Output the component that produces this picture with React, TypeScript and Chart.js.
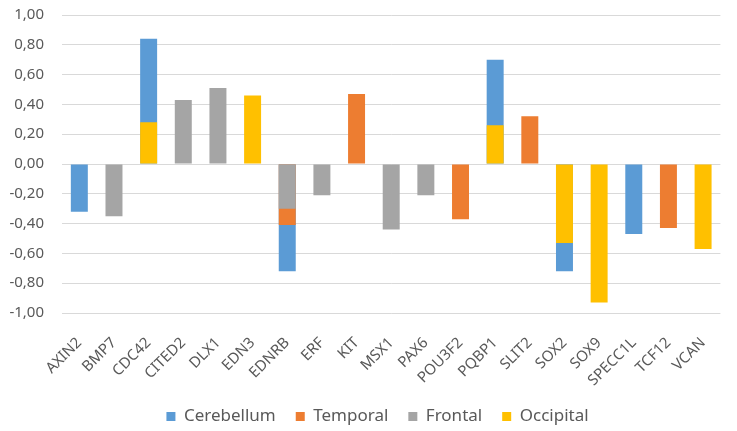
import React, { useEffect, useRef } from 'react';
import { Chart, registerables } from 'chart.js';

Chart.register(...registerables);

const genes = ['AXIN2', 'BMP7', 'CDC42', 'CITED2', 'DLX1', 'EDN3', 'EDNRB', 'ERF', 'KIT', 'MSX1', 'PAX6', 'POU3F2', 'PQBP1', 'SLIT2', 'SOX2', 'SOX9', 'SPECC1L', 'TCF12', 'VCAN'];

const cerebellum = [-0.32, null, 0.84, null, null, null, -0.72, null, null, null, null, null, 0.70, null, -0.72, null, -0.47, null, null];
const temporal = [null, null, null, null, null, null, -0.41, null, 0.47, null, null, -0.37, null, 0.32, null, null, null, -0.43, null];
const frontal = [null, -0.35, null, 0.43, 0.51, null, -0.30, -0.21, null, -0.44, -0.21, null, null, null, null, null, null, null, null];
const occipital = [null, null, 0.28, null, null, 0.46, null, null, null, null, null, null, 0.26, null, -0.53, -0.93, null, null, -0.57];

const textColor = '#595959';
const font = { family: '"Noto Sans", sans-serif', size: 15 };

// keep the wide gap between legend items but pull the legend a little lower,
// and centre it under the plot area instead of the whole canvas
const legendShift = {
  id: 'legendShift',
  afterInit(chart: any) {
    const legend = chart.legend;
    if (!legend) return;
    const fit = legend.fit.bind(legend);
    legend.fit = function () {
      fit();
      this.height -= 4;
    };
    const draw = legend.draw.bind(legend);
    legend.draw = function () {
      const ctx = chart.ctx;
      ctx.save();
      ctx.translate(9, 0);
      draw();
      ctx.restore();
    };
  },
};

const App = () => {
  const chartRef = useRef<HTMLCanvasElement | null>(null);

  useEffect(() => {
    if (!chartRef.current) return;
    // later series are drawn on top of earlier ones (overlapping bars, not stacked)
    const myChart = new Chart(chartRef.current, {
      type: 'bar',
      data: {
        labels: genes,
        datasets: [
          { label: 'Cerebellum', data: cerebellum, backgroundColor: '#5B9BD5', order: 4 },
          { label: 'Temporal', data: temporal, backgroundColor: '#ED7D31', order: 3 },
          { label: 'Frontal', data: frontal, backgroundColor: '#A5A5A5', order: 2 },
          { label: 'Occipital', data: occipital, backgroundColor: '#FFC000', order: 1 },
        ],
      },
      plugins: [legendShift],
      options: {
        animation: false,
        responsive: true,
        maintainAspectRatio: false,
        datasets: { bar: { categoryPercentage: 1, barPercentage: 0.49 } },
        layout: { padding: { left: 7, right: 7, top: 15, bottom: 0 } },
        plugins: {
          tooltip: { enabled: false },
          legend: {
            position: 'bottom',
            labels: {
              boxWidth: 9,
              boxHeight: 9,
              color: textColor,
              font: { ...font, size: 17 },
              padding: 20,
              sort: (a, b) => a.datasetIndex - b.datasetIndex,
            },
          },
        },
        scales: {
          x: {
            stacked: true,
            grid: { display: false, drawTicks: false },
            border: { display: false },
            ticks: { color: textColor, font, minRotation: 45, maxRotation: 45, autoSkip: false, padding: 21 },
            afterFit: (scale) => {
              scale.height = 75;
            },
          },
          y: {
            stacked: false,
            min: -1,
            max: 1,
            grid: { color: '#D9D9D9', drawTicks: false, lineWidth: 1 },
            border: { display: false },
            ticks: {
              stepSize: 0.2,
              color: textColor,
              font,
              padding: 18,
              callback: (v) => {
                const n = Math.abs(Number(v)) < 1e-9 ? 0 : Number(v);
                return n.toFixed(2).replace('.', ',');
              },
            },
            afterFit: (scale) => {
              scale.width = 55;
              scale.paddingTop = 0;
              scale.paddingBottom = 0;
            },
          },
        },
      },
    });

    return () => {
      myChart.destroy();
    };
  }, []);

  return (
    <div style={{ position: 'fixed', left: 0, top: 0, width: 737, height: 431, background: '#fff' }}>
      <canvas ref={chartRef} />
    </div>
  );
};

export default App;
